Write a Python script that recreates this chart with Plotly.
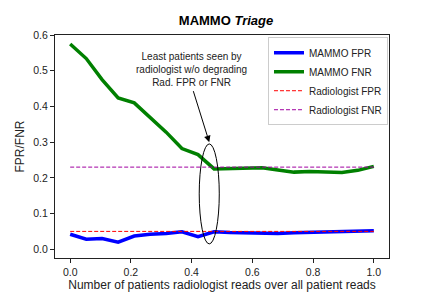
import numpy as np
import plotly.graph_objects as go

x_frac = [0.0, 0.053, 0.105, 0.158, 0.211, 0.263, 0.316, 0.368, 0.421, 0.474,
          0.526, 0.579, 0.632, 0.684, 0.737, 0.789, 0.842, 0.895, 0.947, 1.0]
mammo_fpr = [0.042, 0.028, 0.030, 0.020, 0.037, 0.042, 0.044, 0.049, 0.035, 0.049,
             0.047, 0.046, 0.044, 0.044, 0.046, 0.047, 0.048, 0.049, 0.050, 0.052]
mammo_fnr = [0.575, 0.534, 0.475, 0.424, 0.410, 0.370, 0.328, 0.282, 0.265, 0.225,
             0.226, 0.227, 0.228, 0.222, 0.216, 0.218, 0.217, 0.215, 0.221, 0.232]
rad_fpr = 0.05
rad_fnr = 0.23

FONT = "Liberation Sans, Arial, sans-serif"

fig = go.Figure()
fig.add_trace(go.Scatter(x=x_frac, y=mammo_fpr, mode="lines", name="MAMMO FPR",
                         line=dict(color="blue", width=3.5)))
fig.add_trace(go.Scatter(x=x_frac, y=mammo_fnr, mode="lines", name="MAMMO FNR",
                         line=dict(color="green", width=3.5)))
fig.add_trace(go.Scatter(x=[0, 1], y=[rad_fpr, rad_fpr], mode="lines", name="Radiologist FPR",
                         line=dict(color="red", width=1, dash="4px,2px")))
fig.add_trace(go.Scatter(x=[0, 1], y=[rad_fnr, rad_fnr], mode="lines", name="Radiologist FNR",
                         line=dict(color="#a000a0", width=1, dash="4px,2px")))

# ellipse highlighting the region
fig.add_shape(type="circle", xref="x", yref="y", x0=0.425, x1=0.491, y0=0.015, y1=0.295,
              line=dict(color="black", width=1))

fig.add_annotation(x=0.40, y=0.504, xref="x", yref="y", showarrow=False,
                   text="Least patients seen by<br>radiologist w/o degrading<br>Rad. FPR or FNR",
                   font=dict(size=10, color="#222", family=FONT), align="center")
fig.add_annotation(x=0.458, y=0.300, xref="x", yref="y", ax=0.404, ay=0.447,
                   axref="x", ayref="y", text="", showarrow=True,
                   arrowhead=2, arrowsize=1.3, arrowwidth=1, arrowcolor="black")

fig.update_layout(
    width=433, height=297,
    margin=dict(l=55, r=44, t=35, b=39),
    paper_bgcolor="white", plot_bgcolor="white",
    font=dict(family=FONT, size=10.5, color="#222"),
    title=dict(text="<b>MAMMO <i>Triage</i></b>", x=0.522, xanchor="center", y=0.93,
               yanchor="middle", font=dict(size=13, color="black", family=FONT),
               automargin=False),
    legend=dict(x=0.997, y=0.99, xanchor="right", yanchor="top",
                bgcolor="white", bordercolor="#cccccc", borderwidth=1,
                font=dict(size=10, family=FONT), tracegroupgap=0,
                itemwidth=30),
    showlegend=True,
)
fig.update_xaxes(range=[-0.05, 1.05], tickvals=[0, 0.2, 0.4, 0.6, 0.8, 1.0],
                 ticktext=["0.0", "0.2", "0.4", "0.6", "0.8", "1.0"],
                 ticks="outside", ticklen=4, tickcolor="#222", showgrid=False, zeroline=False,
                 showline=True, linecolor="#222", linewidth=1, mirror=True, automargin=False,
                 title=dict(text="Number of patients radiologist reads over all patient reads",
                            font=dict(size=12), standoff=4))
fig.update_yaxes(range=[-0.0245, 0.6], tickvals=[0, 0.1, 0.2, 0.3, 0.4, 0.5, 0.6],
                 ticktext=["0.0", "0.1", "0.2", "0.3", "0.4", "0.5", "0.6"],
                 ticks="outside", ticklen=4, tickcolor="#222", showgrid=False, zeroline=False,
                 showline=True, linecolor="#222", linewidth=1, mirror=True, automargin=False,
                 title=dict(text="FPR/FNR", font=dict(size=12), standoff=6))

fig.write_html("out.html", config={"displayModeBar": False},
               post_script="document.body.style.margin='0';document.body.style.padding='0';")
